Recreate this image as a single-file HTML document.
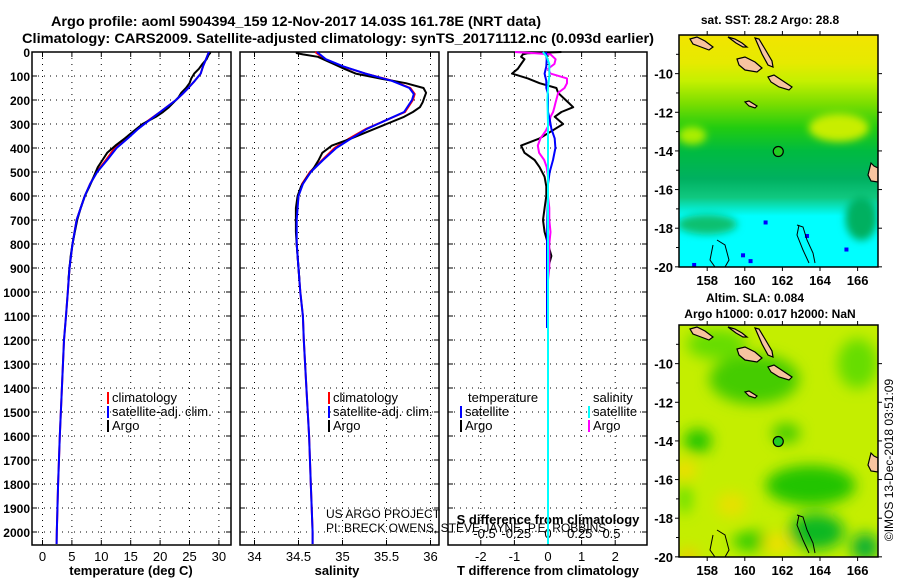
<!DOCTYPE html>
<html><head><meta charset="utf-8"><style>
body{margin:0;background:#fff;}
svg{display:block;font-family:"Liberation Sans",sans-serif;font-weight:bold;}
</style></head><body>
<svg id="fig" width="900" height="580" viewBox="0 0 900 580">
<defs>
<linearGradient id="sstGrad" x1="0" y1="0" x2="0" y2="1">
<stop offset="0" stop-color="#f2e400"/><stop offset="0.12" stop-color="#e6ea00"/>
<stop offset="0.2" stop-color="#c4f000"/><stop offset="0.3" stop-color="#77dd00"/>
<stop offset="0.4" stop-color="#22cc10"/><stop offset="0.5" stop-color="#00bb40"/>
<stop offset="0.62" stop-color="#00b060"/><stop offset="0.7" stop-color="#10c880"/>
<stop offset="0.78" stop-color="#00ffff"/><stop offset="1" stop-color="#00ffff"/>
</linearGradient>
<filter id="blur"><feGaussianBlur stdDeviation="7"/></filter>
<filter id="blur2"><feGaussianBlur stdDeviation="4"/></filter>
<clipPath id="clipTop"><rect x="679" y="35" width="199" height="232"/></clipPath>
<clipPath id="clipBot"><rect x="679" y="325" width="199" height="232"/></clipPath>
</defs>
<text x="296" y="26" text-anchor="middle" font-size="14" textLength="490" lengthAdjust="spacingAndGlyphs">Argo profile: aoml 5904394_159 12-Nov-2017 14.03S 161.78E (NRT data)</text>
<text x="338" y="43" text-anchor="middle" font-size="14" textLength="632" lengthAdjust="spacingAndGlyphs">Climatology: CARS2009. Satellite-adjusted climatology: synTS_20171112.nc (0.093d earlier)</text>
<g id="panels"></g>
<g id="maps"></g>
<text transform="translate(893,460) rotate(-90)" text-anchor="middle" font-size="12" font-weight="normal">©IMOS 13-Dec-2018 03:51:09</text>
</svg>
<script>
// ---- data ----
const depthClim = [0,30,60,90,120,150,175,200,250,280,320,360,400,450,500,550,600,700,800,900,1000,1100,1200,1400,1600,1800,2000,2050];
const tempClim = [28.3,27.8,27.3,26.9,25.9,24.8,23.8,22.7,20.0,18.3,16.1,14.2,12.3,10.8,9.2,8.1,7.2,5.8,5.1,4.6,4.3,4.0,3.65,3.3,2.95,2.65,2.43,2.4];
const tempSat = [28.3,27.8,27.3,26.9,25.9,24.8,23.8,22.7,20.0,18.4,16.3,14.5,12.6,11.0,9.3,8.1,7.2,5.8,5.1,4.6,4.3,4.0,3.65,3.3,2.95,2.65,2.43,2.4];
const salClim = [34.69,34.80,35.0,35.26,35.57,35.77,35.82,35.80,35.71,35.52,35.27,35.08,34.91,34.77,34.63,34.54,34.5,34.47,34.48,34.5,34.52,34.55,34.56,34.59,34.62,34.64,34.66,34.66];
const salSat = [34.71,34.81,35.01,35.26,35.56,35.76,35.81,35.79,35.70,35.52,35.28,35.10,34.93,34.78,34.64,34.55,34.5,34.48,34.48,34.5,34.52,34.55,34.56,34.59,34.62,34.64,34.66,34.66];
const argoDepth = [0,5,10,20,30,50,70,90,110,130,150,170,190,210,230,250,270,300,330,360,390,420,450,480,520,560,600,650,700,750,800,850,900,950];
const tempArgo = [28.5,28.5,28.3,28.1,27.9,27.2,26.6,25.8,25.3,25.0,24.4,23.6,23.1,22.3,21.5,20.5,19.3,17.0,15.5,14.0,12.4,11.0,10.2,9.4,8.7,8.0,7.2,6.5,5.9,5.5,5.1,4.8,4.6,4.4];
const salArgo = [34.48,34.48,34.55,34.72,34.78,34.9,35.02,35.15,35.42,35.72,35.92,35.95,35.93,35.91,35.88,35.8,35.7,35.5,35.3,35.1,34.88,34.77,34.73,34.68,34.6,34.53,34.49,34.47,34.47,34.47,34.48,34.49,34.5,34.51];
const argoTdiff = [0.4,-0.6,-0.75,-0.8,-0.7,-0.8,-0.9,-1.07,-0.6,-0.25,0.25,0.3,0.45,0.6,0.75,0.4,0.2,0.45,0.1,-0.25,-0.8,-0.7,-0.4,-0.25,-0.1,-0.05,-0.05,-0.1,-0.15,-0.1,0,0.1,0,0];
const argoSdiff = [-0.26,-0.1,0.02,0.04,0.06,0.05,0.0,0.02,0.15,0.15,0.13,0.08,0.07,0.06,0.05,0.04,0.02,0.01,-0.02,-0.06,-0.08,-0.07,-0.03,-0.01,0,0,0,0.01,0.01,0.02,0.01,0.01,0.01,0];
const satTDepth = [0,30,60,90,120,150,175,200,250,280,320,360,400,450,500,550,600,700,800,900,1000,1100,1150];
const satTdiff = [-0.06,-0.04,-0.05,-0.1,-0.05,-0.05,0,0,0,0.05,0.1,0.2,0.22,0.15,0.05,0,0,-0.02,-0.03,-0.03,-0.03,-0.03,-0.03];
const satSDepth = [0,20,50,100,150,200,300,500,1000,2050];
const satSdiff = [-0.04,-0.01,0.01,0.01,0,-0.005,0,0,0,0];
const depthTicks = [0,100,200,300,400,500,600,700,800,900,1000,1100,1200,1300,1400,1500,1600,1700,1800,1900,2000];
const tempTicks = [0,5,10,15,20,25,30];
const salTicks = [34,34.5,35,35.5,36];
const salTickLabels = ["34","34.5","35","35.5","36"];
const tdTicks = [-2,-1,0,1,2];
const sdTicks = [-0.5,-0.25,0,0.25,0.5];
const sdTickLabels = ["-0.5","-0.25","0","0.25","0.5"];
const lonTicks = [158,160,162,164,166];
const latTicks = [-10,-12,-14,-16,-18,-20];
const argoLon = [161.78];
const argoLat = [-14.03];

const NS='http://www.w3.org/2000/svg';
function mk(tag, attrs, parent, txt){const e=document.createElementNS(NS,tag);for(const k in attrs)e.setAttribute(k,attrs[k]);if(txt!==undefined)e.textContent=txt;parent.appendChild(e);return e;}
const yD = d => 52 + d*0.24;
const xT = t => 42.5 + t*5.88;
const xS = s => 254.5 + (s-34)*88;
const xTD = v => 548 + v*33.6;
const xSD = v => 548 + v*127;
const panels = document.getElementById('panels');

function line(xs, ds, fx, color, name, w){
  const pts = xs.map((v,i)=>fx(v).toFixed(1)+','+yD(ds[i]).toFixed(1)).join(' ');
  const p = mk('polyline',{points:pts,fill:'none',stroke:color,'stroke-width':w||2,'stroke-linejoin':'round'},panels);
  
  
}

function panelFrame(x0, x1, ticks, fx, labels, name){
  const g = mk('g',{},panels);
  
  
  depthTicks.forEach(d=>{
    mk('line',{x1:x0,x2:x1,y1:yD(d),y2:yD(d),stroke:'#000','stroke-width':1,'stroke-dasharray':'1,5'},g);
    mk('line',{x1:x0,x2:x0+5,y1:yD(d),y2:yD(d),stroke:'#000'},g);
    mk('line',{x1:x1-5,x2:x1,y1:yD(d),y2:yD(d),stroke:'#000'},g);
  });
  ticks.forEach((t,i)=>{
    const x=fx(t);
    mk('line',{x1:x,x2:x,y1:52,y2:545,stroke:'#000','stroke-width':1,'stroke-dasharray':'1,5'},g);
    mk('line',{x1:x,x2:x,y1:52,y2:57,stroke:'#000'},g);
    mk('line',{x1:x,x2:x,y1:540,y2:545,stroke:'#000'},g);
    if(labels){const tx=mk('text',{x:x,y:561,'text-anchor':'middle','font-size':13,'font-weight':'normal'},g,labels[i]);
      
      }
  });
  mk('rect',{x:x0,y:52,width:x1-x0,height:493,fill:'none',stroke:'#000','stroke-width':1.5},g);
}
panelFrame(32,231,tempTicks,xT,tempTicks.map(String),'temperature-panel');
panelFrame(240,439,salTicks,xS,salTickLabels,'salinity-panel');
panelFrame(448,647,tdTicks,xTD,tdTicks.map(String),'difference-panel');
sdTicks.forEach((v,i)=>{
  const t=mk('text',{x:xSD(v),y:538,'text-anchor':'middle','font-size':13,'font-weight':'normal'},panels,sdTickLabels[i]);
  
  
});
depthTicks.forEach(d=>{
  const t=mk('text',{x:30,y:yD(d)+5,'text-anchor':'end','font-size':12},panels,String(d));
  
  
});
[[131,'temperature (deg C)','x-axis-title-temperature'],[337,'salinity','x-axis-title-salinity'],[548,'T difference from climatology','x-axis-title-t-diff']].forEach(a=>{
  const t=mk('text',{x:a[0],y:575,'text-anchor':'middle','font-size':13},panels,a[1]);
  
  
});
const sdt=mk('text',{x:548,y:524,'text-anchor':'middle','font-size':13},panels,'S difference from climatology');


const pr1=mk('text',{x:326,y:518,'font-size':12,'font-weight':'normal'},panels,'US ARGO PROJECT');


const pr2=mk('text',{x:326,y:532,'font-size':12,'font-weight':'normal'},panels,'PI: BRECK OWENS, STEVE JAYNE, P.E. ROBBINS');



line(tempClim,depthClim,xT,'#ff0000','temp-climatology-line');
line(tempArgo,argoDepth,xT,'#000000','temp-argo-line');
line(tempSat,depthClim,xT,'#0000ff','temp-satellite-line');
line(salClim,depthClim,xS,'#ff0000','sal-climatology-line');
line(salArgo,argoDepth,xS,'#000000','sal-argo-line');
line(salSat,depthClim,xS,'#0000ff','sal-satellite-line');
line(argoTdiff,argoDepth,xTD,'#000000','t-diff-argo-line');
line(argoSdiff,argoDepth,xSD,'#ff00ff','s-diff-argo-line');
line(satTdiff,satTDepth,xTD,'#0000ff','t-diff-satellite-line');
line(satSdiff,satSDepth,xSD,'#00ffff','s-diff-satellite-line');

function legend(x,y,color,label,name){
  const g=mk('g',{},panels);
  
  
  mk('rect',{x:x,y:y-10,width:2,height:12,fill:color},g);
  mk('text',{x:x+5,y:y,'font-size':13,'font-weight':'normal'},g,label);
}
legend(107,402,'#ff0000','climatology','legend-temp-climatology');
legend(107,416,'#0000ff','satellite-adj. clim.','legend-temp-satellite');
legend(107,430,'#000000','Argo','legend-temp-argo');
legend(328,402,'#ff0000','climatology','legend-sal-climatology');
legend(328,416,'#0000ff','satellite-adj. clim.','legend-sal-satellite');
legend(328,430,'#000000','Argo','legend-sal-argo');
const lt=mk('text',{x:468,y:402,'font-size':13,'font-weight':'normal'},panels,'temperature');


const ls=mk('text',{x:593,y:402,'font-size':13,'font-weight':'normal'},panels,'salinity');


legend(460,416,'#0000ff','satellite','legend-t-diff-satellite');
legend(460,430,'#000000','Argo','legend-t-diff-argo');
legend(588,416,'#00ffff','satellite','legend-s-diff-satellite');
legend(588,430,'#ff00ff','Argo','legend-s-diff-argo');

// ---- maps ----
const maps=document.getElementById('maps');
const islands=[
 "11,4 18,2 26,6 34,12 30,15 22,12 14,9",
 "49,2 56,4 63,8 68,12 64,12 57,8",
 "58,24 66,22 76,27 83,33 78,37 66,35 60,30",
 "76,3 80,4 86,14 93,26 94,32 89,30 83,19",
 "89,42 95,40 104,46 113,52 110,55 100,52 92,47",
 "66,67 70,66 78,71 76,73 70,71",
 "192,128 195,131 199,133 199,147 192,146 189,140"];
function drawMap(y0,type,name){
  const g=mk('g',{},maps);
  
  
  const x0=679, w=199, h=232;
  const lx = lon => x0 + (lon-156.5)*18.8;
  const ly = lat => y0 + (-8-lat)*19.32;
  const inner=mk('g',{'clip-path':'url(#'+(type==='sst'?'clipTop':'clipBot')+')'},g);
  if(type==='sst'){
    mk('rect',{x:x0,y:y0,width:w,height:h,fill:'url(#sstGrad)'},inner);
    const bl=mk('g',{filter:'url(#blur2)'},inner);
    [[165,-12.8,30,14,'#c8ee00'],[157.2,-13.2,14,9,'#aaee00'],[158,-17.8,30,10,'#10c070'],[166.2,-17.5,16,22,'#00b060'],[158.5,-19.3,25,6,'#00ffff']].forEach(b=>
      mk('ellipse',{cx:lx(b[0]),cy:ly(b[1]),rx:b[2],ry:b[3],fill:b[4]},bl));
    [[157.2,-19.8],[159.8,-19.3],[160.2,-19.6],[163.2,-18.3],[161,-17.6],[165.3,-19]].forEach(p=>mk('rect',{x:lx(p[0]),y:ly(p[1]),width:4,height:4,fill:'#0000ff'},inner));
  } else {
    mk('rect',{x:x0,y:y0,width:w,height:h,fill:'#c4ee00'},inner);
    const bl=mk('g',{filter:'url(#blur)'},inner);
    [[160.5,-10.8,45,25,'#44cc00'],[158.5,-9,30,15,'#66dd00'],[157.5,-14,14,12,'#22c400'],[163.5,-16.3,45,20,'#22c400'],[163.8,-18.7,28,18,'#10b820'],[166.4,-19.5,14,14,'#10b030'],[160.5,-19.2,22,10,'#33cc00'],[162.2,-13.6,14,10,'#44cc00'],[156.8,-15.5,12,10,'#eedd00'],[159.3,-17.3,15,12,'#e8e000'],[161.7,-19.3,15,10,'#eee000'],[157,-20,10,8,'#eecc00'],[166,-10,20,25,'#66dd00'],[156.8,-17,6,15,'#55dd00']].forEach(b=>
      mk('ellipse',{cx:lx(b[0]),cy:ly(b[1]),rx:b[2],ry:b[3],fill:b[4]},bl));
  }
  const il=mk('g',{transform:'translate('+x0+','+y0+')'},inner);
  islands.forEach(p=>mk('polygon',{points:p,fill:'#f7c4a0',stroke:'#000','stroke-width':1.2},il));
  mk('path',{d:'M118,190 L124,192 L128,205 L134,218 L136,228 M120,190 L118,200 L124,215 L130,228',fill:'none',stroke:'#000','stroke-width':1},il);
  mk('path',{d:'M38,205 L46,210 L50,225 L46,232 M34,210 L31,225 L36,232',fill:'none',stroke:'#000','stroke-width':1},il);
  argoLon.forEach((lo,i)=>{
    const c=mk('circle',{cx:lx(lo),cy:ly(argoLat[i]),r:5,fill:'#22cc22',stroke:'#000','stroke-width':1.2},g);
    
    
  });
  mk('rect',{x:x0,y:y0,width:w,height:h,fill:'none',stroke:'#000','stroke-width':1.5},g);
  lonTicks.forEach(lo=>{
    mk('line',{x1:lx(lo),x2:lx(lo),y1:y0-4,y2:y0,stroke:'#000'},g);
    mk('line',{x1:lx(lo),x2:lx(lo),y1:y0+h,y2:y0+h+4,stroke:'#000'},g);
    const t=mk('text',{x:lx(lo),y:y0+h+18,'text-anchor':'middle','font-size':13},g,String(lo));
    
    
  });
  latTicks.forEach(la=>{
    mk('line',{x1:x0-4,x2:x0,y1:ly(la),y2:ly(la),stroke:'#000'},g);
    mk('line',{x1:x0+w,x2:x0+w+4,y1:ly(la),y2:ly(la),stroke:'#000'},g);
    const t=mk('text',{x:x0-6,y:ly(la)+5,'text-anchor':'end','font-size':13},g,String(la));
    
    
  });
  [-11,-13,-15,-17,-19,-9].forEach(la=>mk('line',{x1:x0-3,x2:x0,y1:ly(la),y2:ly(la),stroke:'#000'},g));
}
drawMap(35,'sst','sst-map');
drawMap(325,'sla','sla-map');
[[770,24,'sat. SST: 28.2 Argo: 28.8','sst-map-title'],[755,302,'Altim. SLA: 0.084','sla-map-title'],[770,318,'Argo h1000: 0.017 h2000: NaN','sla-map-subtitle']].forEach(a=>{
  const t=mk('text',{x:a[0],y:a[1],'text-anchor':'middle','font-size':12},maps,a[2]);
  
  
});
</script>
</body></html>
